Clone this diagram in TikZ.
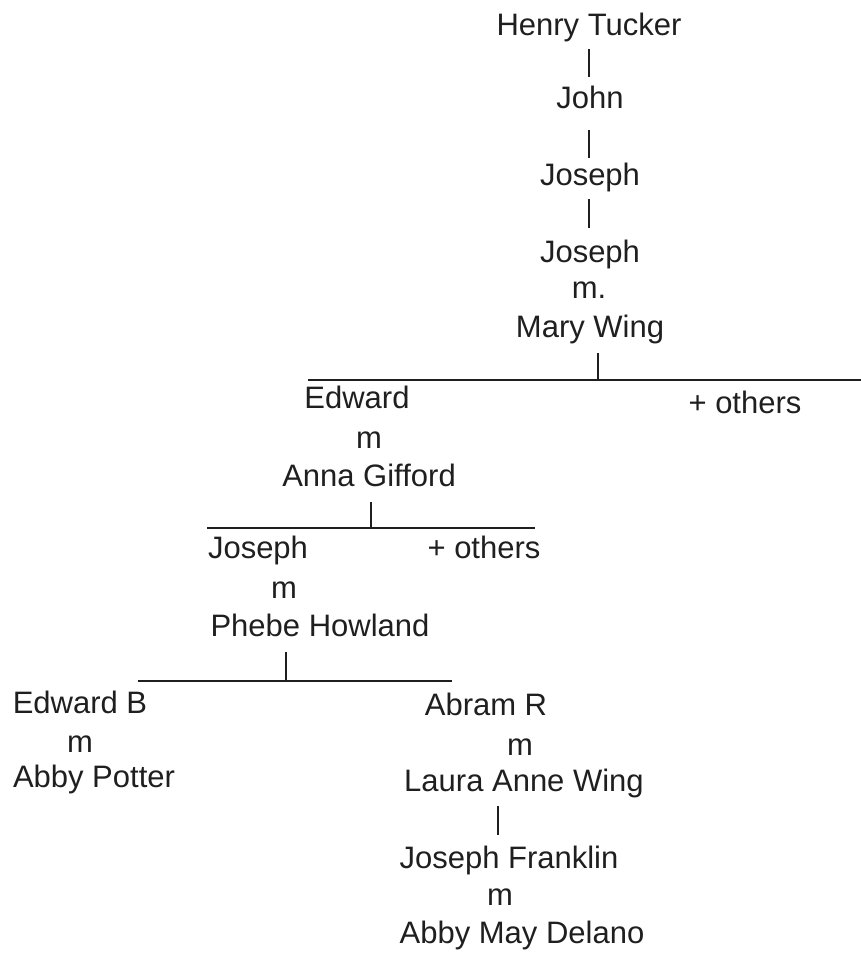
\documentclass[tikz,border=0pt]{standalone}
\usepackage{fontspec}
\setmainfont{Liberation Sans}
\definecolor{ink}{gray}{0.12}
\begin{document}
\begin{tikzpicture}[x=1pt,y=-1pt,
  nm/.style={anchor=base, inner sep=0pt, font=\fontsize{31}{37}\selectfont, text=ink},
  bar/.style={line width=2.3pt, draw=ink},
  rule/.style={line width=2pt, draw=ink}]
\useasboundingbox (0,0) rectangle (861,953);
% generation 1-4
\node[nm] (ht) at (589,35) {Henry Tucker};
\node[nm] (john) at (590,108) {John};
\node[nm] (jos1) at (590,185) {Joseph};
\node[nm] (jos2) at (590,262) {Joseph};
\node[nm] (m1) at (589,298) {m.};
\node[nm] (mw) at (590,337) {Mary Wing};
\coordinate (b1t) at (589,49);  \coordinate (b1b) at (589,77);
\coordinate (b2t) at (589,130); \coordinate (b2b) at (589,158);
\coordinate (b3t) at (589,199); \coordinate (b3b) at (589,228);
\draw[bar] (b1t) -- (b1b);
\draw[bar] (b2t) -- (b2b);
\draw[bar] (b3t) -- (b3b);
% children of Joseph & Mary Wing
\coordinate (b4t) at (598,353); \coordinate (b4b) at (598,380);
\coordinate (l1a) at (308,380); \coordinate (l1b) at (861,380);
\draw[bar] (b4t) -- (b4b);
\draw[rule] (l1a) -- (l1b);
\node[nm] (ed) at (357,408) {Edward};
\node[nm] (oth1) at (745,413) {+ others};
\node[nm] (m2) at (369,448) {m};
\node[nm] (ag) at (369,486) {Anna Gifford};
% children of Edward & Anna
\coordinate (b5t) at (371,502); \coordinate (b5b) at (371,528);
\coordinate (l2a) at (207,528); \coordinate (l2b) at (535,528);
\draw[bar] (b5t) -- (b5b);
\draw[rule] (l2a) -- (l2b);
\node[nm] (jos3) at (258,558) {Joseph};
\node[nm] (oth2) at (484,558) {+ others};
\node[nm] (m3) at (284,598) {m};
\node[nm] (ph) at (320,636) {Phebe Howland};
% children of Joseph & Phebe
\coordinate (b6t) at (286,652); \coordinate (b6b) at (286,681);
\coordinate (l3a) at (138,681); \coordinate (l3b) at (452,681);
\draw[bar] (b6t) -- (b6b);
\draw[rule] (l3a) -- (l3b);
\node[nm] (edb) at (80,713) {Edward B};
\node[nm] (m4) at (80,752) {m};
\node[nm] (ap) at (94,787) {Abby Potter};
\node[nm] (ar) at (486,715) {Abram R};
\node[nm] (m5) at (520,755) {m};
\node[nm] (law) at (524,791) {Laura Anne Wing};
\coordinate (b7t) at (498,806); \coordinate (b7b) at (498,835);
\draw[bar] (b7t) -- (b7b);
\node[nm] (jf) at (509,868) {Joseph Franklin};
\node[nm] (m6) at (500,905) {m};
\node[nm] (amd) at (522,943) {Abby May Delano};
\end{tikzpicture}
\end{document}
